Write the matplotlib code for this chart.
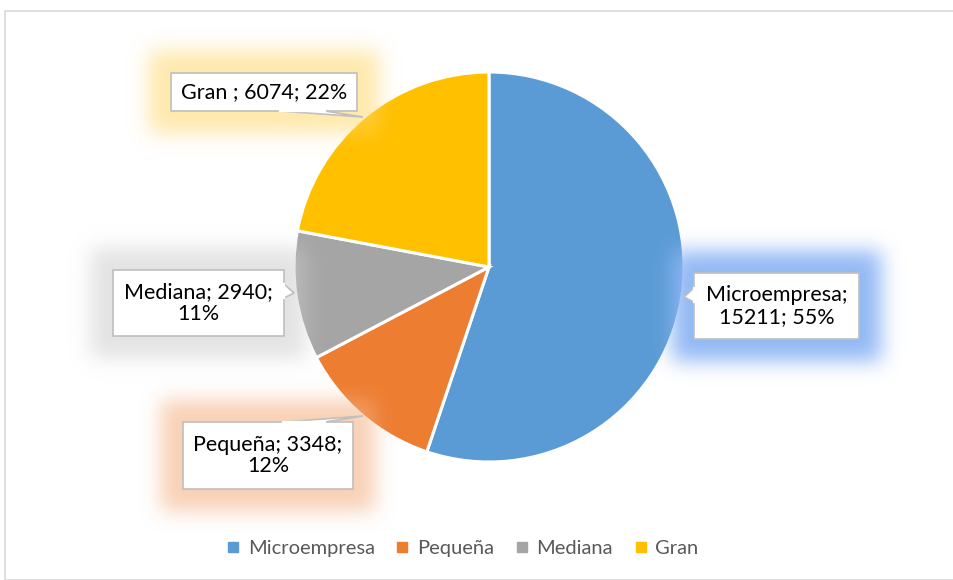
import numpy as np
import matplotlib
matplotlib.use("Agg")
import matplotlib.pyplot as plt
from matplotlib.patches import Rectangle, Polygon
from matplotlib.lines import Line2D

# ---- data ----
categories = ["Microempresa", "Pequeña", "Mediana", "Gran"]
values = [15211, 3348, 2940, 6074]
colors = ["#5B9BD5", "#ED7D31", "#A5A5A5", "#FFC000"]
label_fmt = ["{c};\n{v}; {p}%", "{c}; {v};\n{p}%", "{c}; {v};\n{p}%", "{c} ; {v}; {p}%"]

W, H = 954, 580
FONT = "Lato"
plt.rcParams["font.family"] = [FONT, "DejaVu Sans"]

fig = plt.figure(figsize=(W / 100, H / 100), dpi=100)
ax = fig.add_axes([0, 0, 1, 1])

def Y(yp):  # pixel-from-top -> data
    return H - yp

# pie
cx, cy, R = 489, Y(267), 195
ax.pie(values, colors=colors, startangle=90, counterclock=False, radius=R,
       center=(cx, cy), frame=True,
       wedgeprops=dict(edgecolor="white", linewidth=2.2), normalize=True)
ax.set_xlim(0, W)
ax.set_ylim(0, H)
ax.set_aspect("auto")
ax.axis("off")

# chart border
ax.add_patch(Rectangle((5, 0), W - 5, Y(10.5), fill=False, ec="#D9D9D9", lw=1.2, zorder=1))

total = sum(values)
pcts = [round(v / total * 100) for v in values]

# label boxes (pixel coords: x0, y0, x1, y1), callout pointers
boxes = {
    "Microempresa": (694, 273, 859, 339),
    "Pequeña": (183, 422, 353, 489),
    "Mediana": (113, 270, 284, 336),
    "Gran": (171, 73, 357, 111),
}
pointers = {
    "Microempresa": [(694, 288), (684, 297), (694, 302)],
    "Pequeña": [(283, 422), (363, 416), (325, 422)],
    "Mediana": [(284, 284), (294, 293), (284, 298)],
    "Gran": [(280, 111), (363, 117), (325, 111)],
}
glow_cols = {
    "Microempresa": ((0.55, 0.71, 0.96), 0.95),
    "Pequeña": ((0.96, 0.70, 0.52), 0.6),
    "Mediana": ((0.80, 0.80, 0.80), 0.55),
    "Gran": ((1.0, 0.84, 0.40), 0.55),
}

def blur(img, sigma):
    r = int(3 * sigma)
    x = np.arange(-r, r + 1)
    k = np.exp(-x ** 2 / (2 * sigma ** 2))
    k /= k.sum()
    img = np.apply_along_axis(lambda m: np.convolve(m, k, mode="same"), 0, img)
    img = np.apply_along_axis(lambda m: np.convolve(m, k, mode="same"), 1, img)
    return img

rgba = np.zeros((H, W, 4))
for c in categories:
    x0, y0, x1, y1 = boxes[c]
    m = np.zeros((H, W))
    e = 22
    m[max(0, y0 - e):min(H, y1 + e), max(0, x0 - e):min(W, x1 + e)] = 1
    m = blur(m, 10)
    col, amax = glow_cols[c]
    a = m * amax
    for i in range(3):
        rgba[..., i] += col[i] * a
    rgba[..., 3] += a
alpha = np.clip(rgba[..., 3], 0, 1)
rgb = np.where(alpha[..., None] > 0, rgba[..., :3] / np.maximum(rgba[..., 3:4], 1e-9), 1)
img = np.dstack([np.clip(rgb, 0, 1), alpha])
ax.imshow(img, extent=(0, W, 0, H), origin="upper", zorder=3, interpolation="bilinear")
ax.set_xlim(0, W)
ax.set_ylim(0, H)
ax.set_aspect("auto")

for c, v, p, fmt in zip(categories, values, pcts, label_fmt):
    x0, y0, x1, y1 = boxes[c]
    ax.add_patch(Rectangle((x0, Y(y1)), x1 - x0, y1 - y0, fc="white", ec="#BFBFBF", lw=1.2, zorder=4))
    pts = [(px, Y(py)) for px, py in pointers[c]]
    ax.add_patch(Polygon(pts, closed=False, fc="white", ec="#BFBFBF", lw=1.2, zorder=4))
    ax.plot([pts[0][0], pts[2][0]], [pts[0][1], pts[2][1]], color="white", lw=1.6, zorder=4.5)
    ax.text((x0 + x1) / 2, Y((y0 + y1) / 2), fmt.format(c=c, v=v, p=p),
            ha="center", va="center", fontsize=15.5, color="#000000",
            linespacing=1.1, zorder=5)

# legend
handles = [Line2D([], [], marker="s", ls="none", color=col, markersize=6.5) for col in colors]
leg = fig.legend(handles, categories, loc="center", bbox_to_anchor=(463 / W, 1 - 548 / H),
                 ncol=4, frameon=False, fontsize=14.5, handlelength=0.55, handletextpad=0.45,
                 columnspacing=1.1, labelcolor="#595959")

fig.savefig("out.png", dpi=100)
